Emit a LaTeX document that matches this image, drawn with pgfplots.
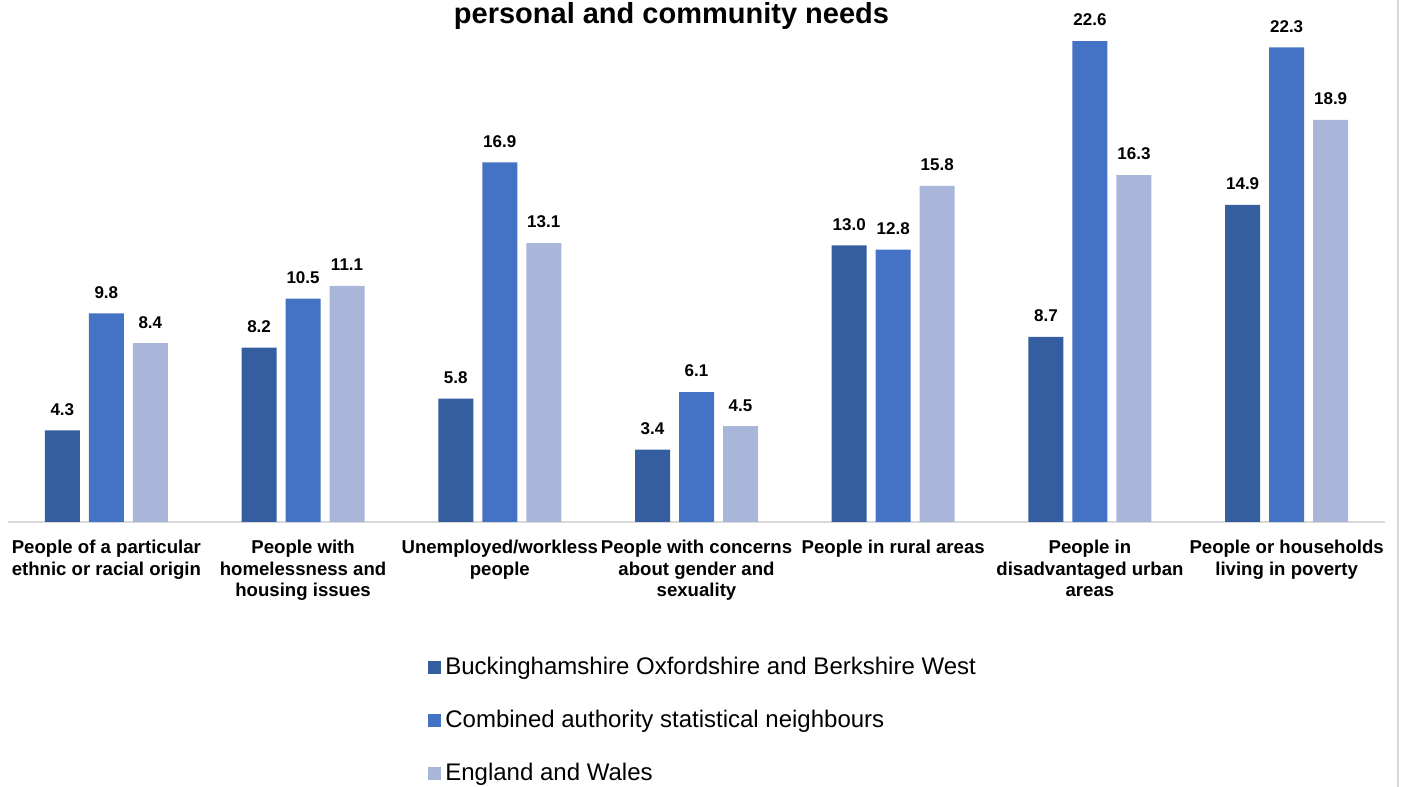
\documentclass[border=0pt]{standalone}
\usepackage{fontspec}
\setmainfont{Liberation Sans}
\usepackage{pgfplots}
\pgfplotsset{compat=1.18}
\definecolor{cA}{HTML}{355EA1}
\definecolor{cB}{HTML}{4472C4}
\definecolor{cC}{HTML}{A9B6DA}
\begin{document}
\begin{tikzpicture}
\path[use as bounding box] (0,0) rectangle (701.5pt,393.5pt);
\draw[color=black!15, line width=1pt] (699pt,0) -- (699pt,393.5pt);
\node[anchor=base, font=\fontsize{14.5}{17}\selectfont\bfseries] at (335.75pt,381.5pt) {personal and community needs};
\begin{axis}[
  at={(4pt,132.5pt)}, anchor=south west, scale only axis,
  width=688.5pt, height=261pt,
  xmin=-0.5, xmax=6.5, ymin=0, ymax=24.53,
  ybar=4.5pt, bar width=17.5pt,
  axis x line*=bottom, axis y line=none,
  x axis line style={color=black!15, line width=0.75pt, -},
  ytick=\empty,
  xtick={0,...,6}, major tick length=0pt,
  xticklabels={{People of a particular\\ethnic or racial origin},
    {People with\\homelessness and\\housing issues},
    {Unemployed/workless\\people},
    {People with concerns\\about gender and\\sexuality},
    {People in rural areas},
    {People in\\disadvantaged urban\\areas},
    {People or households\\living in poverty}},
  xticklabel style={align=center, anchor=north, yshift=-5.5pt, text=black,
    font=\fontsize{9.3}{10.75}\selectfont\bfseries},
  clip=false,
  /pgf/number format/assume math mode=true,
  nodes near coords={\pgfmathprintnumber[fixed,fixed zerofill,precision=1]{\pgfplotspointmeta}},
  nodes near coords style={anchor=south, yshift=4pt, text=black,
    font=\fontsize{8.5}{10}\selectfont\bfseries},
  legend style={at={(axis description cs:0.305,-0.251)}, anchor=north west,
    draw=none, fill=none, inner sep=0pt, row sep=12.25pt,
    font=\fontsize{12}{14}\selectfont, legend cell align=left},
  legend image code/.code={\fill[#1] (0pt,-3.25pt) rectangle (6.5pt,3.25pt);},
]
\addplot[fill=cA, draw=none] coordinates {(0,4.3) (1,8.2) (2,5.8) (3,3.4) (4,13.0) (5,8.7) (6,14.9)};
\addlegendentry{Buckinghamshire Oxfordshire and Berkshire West}
\addplot[fill=cB, draw=none] coordinates {(0,9.8) (1,10.5) (2,16.9) (3,6.1) (4,12.8) (5,22.6) (6,22.3)};
\addlegendentry{Combined authority statistical neighbours}
\addplot[fill=cC, draw=none] coordinates {(0,8.4) (1,11.1) (2,13.1) (3,4.5) (4,15.8) (5,16.3) (6,18.9)};
\addlegendentry{England and Wales}
\end{axis}
\end{tikzpicture}
\end{document}
